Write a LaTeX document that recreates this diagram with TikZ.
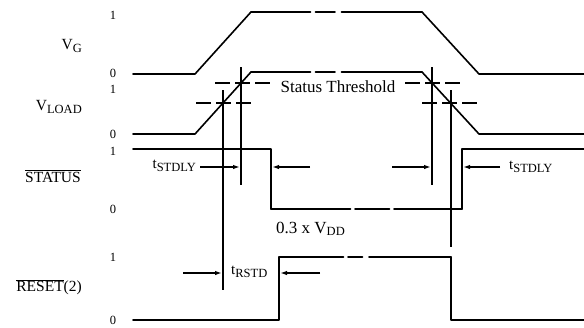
\documentclass[tikz,border=0pt]{standalone}
\usepackage{fontspec}
\setmainfont{Liberation Serif}
\usetikzlibrary{arrows.meta}
\begin{document}
\begin{tikzpicture}[x=1pt,y=-1pt,
  sig/.style={line width=1.6pt, line cap=round, line join=round},
  vmark/.style={line width=1.6pt},
  thr/.style={line width=1.4pt, dash pattern=on 15pt off 5pt},
  dim/.style={line width=1.4pt, -{Latex[length=7pt,width=4.5pt]}},
  lvl/.style={font=\fontsize{12.5}{12.5}\selectfont, inner sep=0pt},
  sname/.style={font=\fontsize{15.5}{15.5}\selectfont, anchor=east, inner sep=0pt},
  ann/.style={font=\fontsize{17}{17}\selectfont, inner sep=0pt},
  tlab/.style={font=\fontsize{15}{15}\selectfont, inner sep=0pt},
]
\newcommand{\sbs}[1]{\raisebox{-2.6pt}{\fontsize{12.5}{12.5}\selectfont #1}}
\newcommand{\tsb}[1]{\raisebox{-2.4pt}{\fontsize{12.5}{12.5}\selectfont #1}}
\useasboundingbox (0,0) rectangle (584,327);

% level labels
\node[lvl] (g1) at (113,15) {1};
\node[lvl] (g0) at (113,73) {0};
\node[lvl] (l1) at (113,89) {1};
\node[lvl] (l0) at (113,134) {0};
\node[lvl] (s1) at (113,151) {1};
\node[lvl] (s0) at (113,209) {0};
\node[lvl] (r1) at (113,257) {1};
\node[lvl] (r0) at (113,320) {0};

% signal names
\node[sname] (nG) at (82,46) {V\sbs{G}};
\node[sname] (nL) at (82,107) {V\sbs{LOAD}};
\node[sname] (nS) at (81,176) {$\overline{\mbox{STATUS}}$};
\node[sname] (nR) at (82,287) {$\overline{\mbox{RESET}}$(2)};

% waveforms
\draw[sig] (133,74) -- (195,74) -- (251,12);
\draw[sig, dash pattern=on 59.5pt off 5pt on 19.5pt off 6.5pt on 200pt] (251,12) -- (422,12);
\draw[sig] (422,12) -- (479,74) -- (584,74);

\draw[sig] (133,134) -- (195,134) -- (251,72);
\draw[sig, dash pattern=on 59.5pt off 5pt on 19.5pt off 6.5pt on 200pt] (251,72) -- (422,72);
\draw[sig] (422,72) -- (479,134) -- (584,134);

\draw[sig] (133,149) -- (271,149) -- (271,209);
\draw[sig, dash pattern=on 79.5pt off 4.5pt on 34.5pt off 4.5pt on 200pt] (271,209) -- (462,209);
\draw[sig] (462,209) -- (462,149) -- (584,149);

\draw[sig] (133,320) -- (279,320) -- (279,257);
\draw[sig, dash pattern=on 64.5pt off 4.5pt on 14.5pt off 6.5pt on 200pt] (279,257) -- (451,257);
\draw[sig] (451,257) -- (451,320) -- (584,320);

% threshold marker lines
\draw[vmark] (241,67) -- (241,185);
\draw[vmark] (223,90) -- (223,290);
\draw[vmark] (432,67) -- (432,185);
\draw[vmark] (451,90) -- (451,247);

\draw[thr] (215,83) -- (270,83);
\draw[thr] (196,103) -- (251,103);
\draw[thr] (405,83) -- (460,83);
\draw[thr] (422,103) -- (477,103);

\node[ann] (st) at (338,87) {Status Threshold};
\node[ann, anchor=west] (vdd) at (276,229) {0.3 x V\sbs{DD}};

% dimension arrows
\coordinate (a1s) at (200,167); \coordinate (a1e) at (240,167);
\coordinate (a2s) at (310,167); \coordinate (a2e) at (272,167);
\coordinate (a3s) at (392,167); \coordinate (a3e) at (431,167);
\coordinate (a4s) at (500,167); \coordinate (a4e) at (463,167);
\coordinate (b1s) at (183,273); \coordinate (b1e) at (222,273);
\coordinate (b2s) at (320,273); \coordinate (b2e) at (280,273);
\draw[dim] (a1s) -- (a1e);
\draw[dim] (a2s) -- (a2e);
\draw[dim] (a3s) -- (a3e);
\draw[dim] (a4s) -- (a4e);
\draw[dim] (b1s) -- (b1e);
\draw[dim] (b2s) -- (b2e);

\node[tlab, anchor=east] (t1) at (196,166) {t\tsb{STDLY}};
\node[tlab, anchor=west] (t2) at (509,167) {t\tsb{STDLY}};
\node[tlab, anchor=west] (t3) at (231,272) {t\tsb{RSTD}};
\end{tikzpicture}
\end{document}
